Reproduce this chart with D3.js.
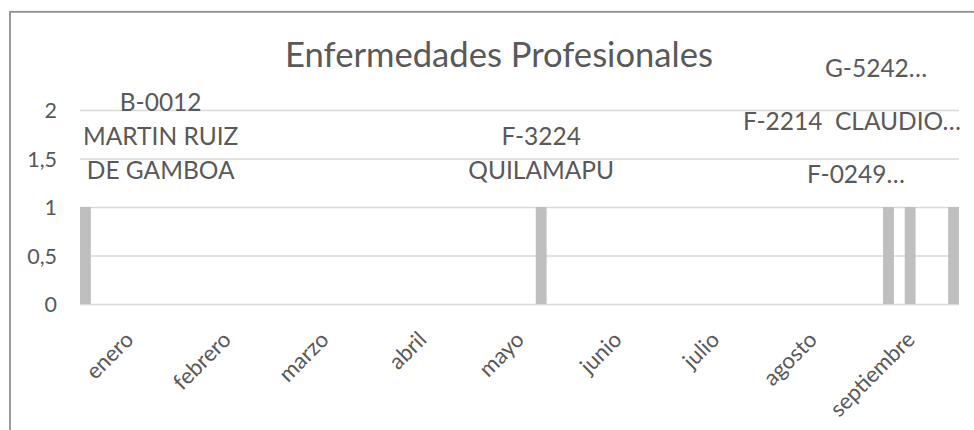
<!DOCTYPE html>
<html>
<head>
<meta charset="utf-8">
<script src="https://cdn.jsdelivr.net/npm/d3@7"></script>
<style>
  html, body { margin: 0; padding: 0; background: #fff; overflow: hidden; }
</style>
</head>
<body>
<svg id="chart" width="974" height="430"></svg>
<script>
// Months on the category axis
const months = ["enero", "febrero", "marzo", "abril", "mayo", "junio", "julio", "agosto", "septiembre"];

// One series per establishment (alphabetical by code); "\n" marks a wrapped label line
const seriesNames = [
  "B-0012\nMARTIN RUIZ\nDE GAMBOA",
  "",
  "F-0249…",
  "",
  "F-2214  CLAUDIO…",
  "",
  "F-3224\nQUILAMAPU",
  "",
  "G-5242…"
];

// Cases per month for each series (null = no record that month)
const seriesValues = [
  [1, null, null, null, null, null, null, null, null],
  [null, null, null, null, null, null, null, null, null],
  [null, null, null, null, null, null, null, null, 1],
  [null, null, null, null, null, null, null, null, null],
  [null, null, null, null, null, null, null, null, 1],
  [null, null, null, null, null, null, null, null, null],
  [null, null, null, null, 1, null, null, null, null],
  [null, null, null, null, null, null, null, null, null],
  [null, null, null, null, null, null, null, null, 1]
];

const yTicks = [0, 0.5, 1, 1.5, 2];
const yTickLabels = ["0", "0,5", "1", "1,5", "2"];
const chartTitle = "Enfermedades Profesionales";

// ---- layout ----
const svg = d3.select("#chart");
const plot = { left: 80, right: 959, top: 110, bottom: 304 };
const font = "Lato, 'Open Sans', sans-serif";
const ink = "#595959";

// scale text so the title keeps its printed width
const probe = svg.append("text").attr("font-family", font).attr("font-size", 37).text(chartTitle);
const k = 428 / probe.node().getComputedTextLength();
probe.remove();

// chart frame
svg.append("rect")
  .attr("x", 10).attr("y", 11.8)
  .attr("width", 1400).attr("height", 1400)
  .attr("fill", "none").attr("stroke", "#8f8f8f").attr("stroke-width", 1.8);

const x = d3.scaleBand().domain(months).range([plot.left, plot.right]).padding(0);
const xs = d3.scaleBand().domain(d3.range(seriesNames.length)).range([0, x.bandwidth()]).padding(0);
const y = d3.scaleLinear().domain([0, 2]).range([plot.bottom, plot.top]);

// value axis with gridlines
const yAxis = svg.append("g")
  .attr("transform", `translate(${plot.left},0)`)
  .call(d3.axisLeft(y)
    .tickValues(yTicks)
    .tickFormat((d, i) => yTickLabels[i])
    .tickSize(-(plot.right - plot.left))
    .tickPadding(23));
yAxis.select(".domain").remove();
yAxis.selectAll(".tick line").attr("stroke", "#d9d9d9").attr("stroke-width", 1.5);
yAxis.selectAll(".tick text")
  .attr("font-family", font).attr("font-size", 23 * k).attr("fill", ink)
  .attr("dy", "0.36em");

// category axis with slanted labels
const xAxis = svg.append("g")
  .attr("transform", `translate(0,${plot.bottom})`)
  .call(d3.axisBottom(x).tickSize(0));
xAxis.select(".domain").remove();
xAxis.selectAll(".tick text")
  .attr("font-family", font).attr("font-size", 23.7 * k).attr("fill", ink)
  .attr("x", 0).attr("y", 0).attr("dy", 0)
  .attr("text-anchor", "end")
  .attr("transform", "translate(6,37) rotate(-45)");

// bars
const cells = [];
seriesValues.forEach((row, si) => {
  row.forEach((v, mi) => {
    if (v != null) cells.push({ si, month: months[mi], v });
  });
});

svg.append("g").selectAll("rect")
  .data(cells)
  .join("rect")
  .attr("x", d => x(d.month) + xs(d.si))
  .attr("width", xs.bandwidth())
  .attr("y", d => y(d.v))
  .attr("height", d => y(0) - y(d.v))
  .attr("fill", "#bfbfbf");

// series-name labels; some were dragged away from their bars
const labelNudge = { 2: { dx: -32.5, dy: 4 }, 4: { dx: -53.5, dy: -49 }, 8: { dx: -77.5, dy: -102 } };
const labelSize = 26.2 * k;
const lineGap = 34;
const labels = svg.append("g");
cells.forEach(d => {
  const lines = seriesNames[d.si].split("\n");
  const nudge = labelNudge[d.si] || { dx: 0, dy: 0 };
  const g = labels.append("g");
  const t = g.append("text")
    .attr("font-family", font).attr("font-size", labelSize).attr("fill", ink)
    .attr("text-anchor", "middle")
    .attr("xml:space", "preserve")
    .style("white-space", "pre");
  const lastBase = y(d.v) - 28 + nudge.dy;
  lines.forEach((ln, i) => {
    t.append("tspan")
      .attr("x", 0)
      .attr("y", lastBase - (lines.length - 1 - i) * lineGap)
      .text(ln);
  });
  const w = d3.max(t.selectAll("tspan").nodes(), n => n.getComputedTextLength());
  let cx = x(d.month) + xs(d.si) + xs.bandwidth() / 2 + nudge.dx;
  cx = Math.max(cx, plot.left + 3 + w / 2);
  cx = Math.min(cx, plot.right + 2 - w / 2);
  g.attr("transform", `translate(${cx},0)`);
});

// title
svg.append("text")
  .attr("x", 499).attr("y", 67)
  .attr("text-anchor", "middle")
  .attr("font-family", font).attr("font-size", 37 * k).attr("fill", ink)
  .text(chartTitle);
</script>
</body>
</html>
